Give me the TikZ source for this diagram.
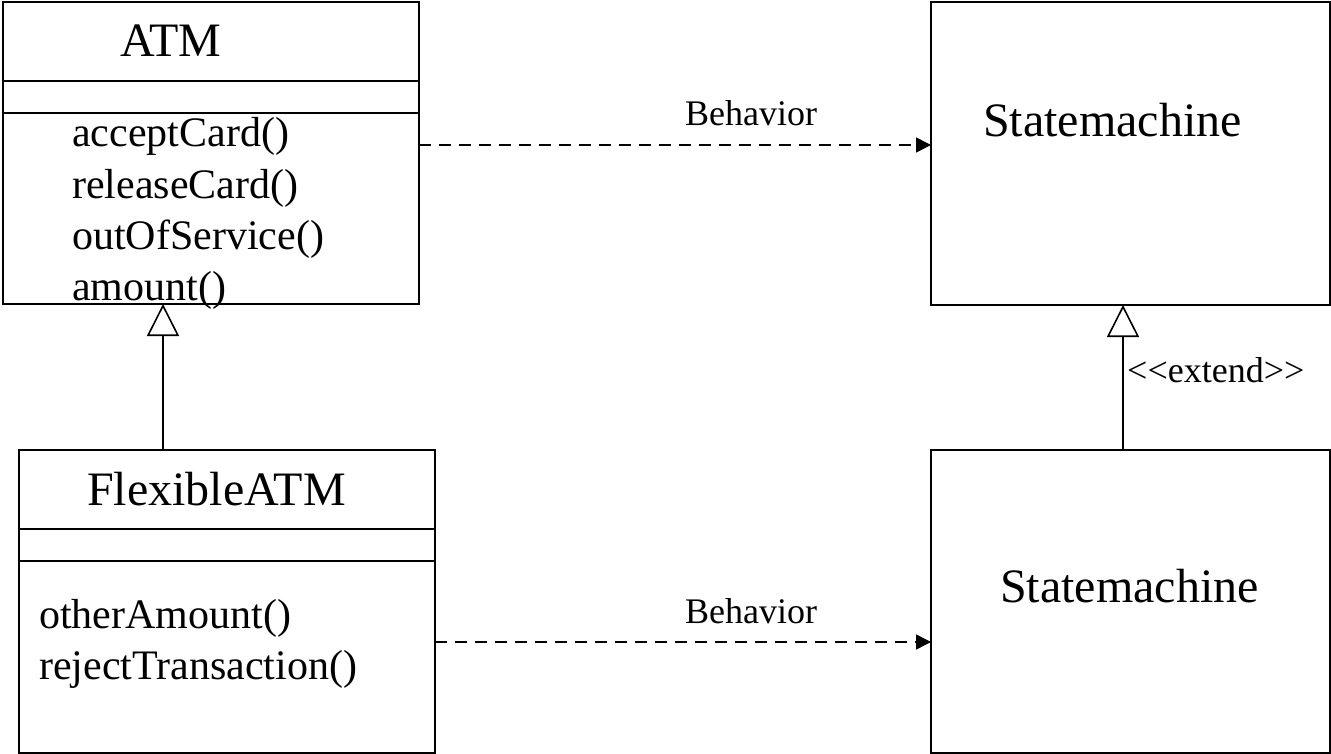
\documentclass[tikz,border=0pt]{standalone}
\usepackage{fontspec}
\setmainfont{Liberation Serif}
\usetikzlibrary{arrows.meta}

\begin{document}
\begin{tikzpicture}[x=1pt, y=-1pt,
  box/.style={draw, line width=1.6pt, anchor=north west, inner sep=0pt, outer sep=0pt},
  divider/.style={line width=1.6pt},
  txt/.style={anchor=base west, inner sep=0pt},
  title/.style={txt, font=\fontsize{48}{56}\selectfont},
  member/.style={txt, font=\fontsize{42}{50}\selectfont},
  tag/.style={txt, font=\fontsize{36}{42}\selectfont},
  behavior/.style={line width=1.6pt, dash pattern=on 12pt off 8pt,
    -{Triangle[length=15pt, width=15pt]}},
  generalize/.style={line width=1.6pt,
    -{Triangle[open, length=32pt, width=32pt, line width=1.6pt]}}
]
\useasboundingbox (0,0) rectangle (1331,754);

% ATM class
\node[box, minimum width=416pt, minimum height=302pt] (atm) at (3,2) {};
\draw[divider] (atm.west |- 0,81) -- (atm.east |- 0,81);
\draw[divider] (atm.west |- 0,113) -- (atm.east |- 0,113);
\node[title] (atmname) at (120,57) {ATM};
\node[member] (m1) at (72,147) {acceptCard()};
\node[member] (m2) at (72,199) {releaseCard()};
\node[member] (m3) at (72,250) {outOfService()};
\node[member] (m4) at (72,300) {amount()};

% FlexibleATM class
\node[box, minimum width=416pt, minimum height=303pt] (flex) at (19,450) {};
\draw[divider] (flex.west |- 0,529) -- (flex.east |- 0,529);
\draw[divider] (flex.west |- 0,561) -- (flex.east |- 0,561);
\node[title] (flexname) at (87,505) {FlexibleATM};
\node[member] (f1) at (39,628) {otherAmount()};
\node[member] (f2) at (39,679) {rejectTransaction()};

% State machines
\node[box, minimum width=399pt, minimum height=303pt] (sm1) at (931,2) {};
\node[title] (sm1name) at (983,137) {Statemachine};
\node[box, minimum width=399pt, minimum height=303pt] (sm2) at (931,450) {};
\node[title] (sm2name) at (1000,602) {Statemachine};

% Behavior dependencies
\coordinate (b1) at (419,145);
\coordinate (b2) at (435,642);
\draw[behavior] (b1) -- (sm1.west |- b1);
\draw[behavior] (b2) -- (sm2.west |- b2);
\node[tag] (beh1) at (685,126) {Behavior};
\node[tag] (beh2) at (685,623) {Behavior};

% Generalizations
\coordinate (g1) at (163,450);
\coordinate (g2) at (1123,450);
\draw[generalize] (g1) -- (g1 |- atm.south);
\draw[generalize] (g2) -- (g2 |- sm1.south);
\node[tag] (ext) at (1127,382) {<{}<extend>{}>};
\end{tikzpicture}
\end{document}
